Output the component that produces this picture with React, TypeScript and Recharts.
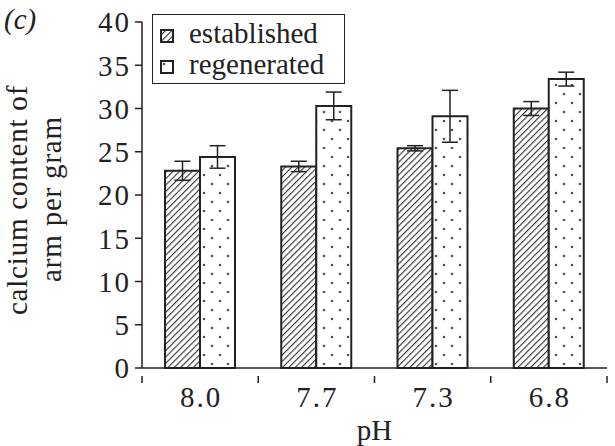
import React from 'react'
import { BarChart, Bar, XAxis, YAxis, ErrorBar } from 'recharts'

const phLevels = ['8.0', '7.7', '7.3', '6.8']
const established = [22.8, 23.3, 25.4, 30.0]
const establishedErr = [1.1, 0.6, 0.3, 0.8]
const regenerated = [24.4, 30.3, 29.1, 33.4]
const regeneratedErr = [1.3, 1.6, 3.0, 0.8]
const yTicks = [0, 5, 10, 15, 20, 25, 30, 35, 40]

const data = phLevels.map((ph, i) => ({
  ph,
  established: established[i],
  establishedErr: establishedErr[i],
  regenerated: regenerated[i],
  regeneratedErr: regeneratedErr[i],
}))

const W = 615
const H = 446
const M = { top: 22, right: 8, left: 0, bottom: 0 }
const Y_AXIS_W = 142
const X_AXIS_H = 78
const FONT = '"Liberation Serif", "Times New Roman", serif'
const FS = 29
const band = (W - M.left - M.right - Y_AXIS_W) / phLevels.length

function XTick(props: any) {
  const { x, y, payload, index } = props
  return (
    <g>
      <line x1={x - band / 2} y1={y} x2={x - band / 2} y2={y + 7} stroke="#222" strokeWidth={1.5} />
      {index === phLevels.length - 1 && (
        <line x1={x + band / 2} y1={y} x2={x + band / 2} y2={y + 7} stroke="#222" strokeWidth={1.5} />
      )}
      <text x={x + 1} y={y + 31} textAnchor="middle" fontFamily={FONT} fontSize={FS} fill="#222" letterSpacing={2}>
        {payload.value}
      </text>
    </g>
  )
}

function YLabel() {
  return (
    <g fontFamily={FONT} fontSize={FS} fill="#222">
      <text transform="translate(27,200) rotate(-90)" textAnchor="middle" letterSpacing={0.8}>calcium content of</text>
      <text transform="translate(61,199) rotate(-90)" textAnchor="middle" letterSpacing={0.8}>arm per gram</text>
    </g>
  )
}

function LegendBox() {
  const row = (fill: string, label: string) => (
    <div style={{ display: 'flex', alignItems: 'center', height: 31 }}>
      <svg width={14} height={14} style={{ marginRight: 15, marginTop: 5 }}>
        <rect x={1} y={1} width={12} height={12} fill={fill} stroke="#222" strokeWidth={2} />
      </svg>
      <span>{label}</span>
    </div>
  )
  return (
    <div
      style={{
        position: 'absolute',
        left: 152,
        top: 14,
        boxSizing: 'border-box',
        width: 193,
        height: 70,
        border: '1.5px solid #222',
        padding: '3px 0 0 7px',
        fontFamily: FONT,
        fontSize: FS,
        lineHeight: '31px',
        color: '#222',
        background: '#fff',
      }}
    >
      {row('url(#hatch)', 'established')}
      {row('url(#dots)', 'regenerated')}
    </div>
  )
}

export default function App() {
  return (
    <div style={{ position: 'absolute', left: 0, top: 0, width: W, height: H, background: '#fff' }}>
      <BarChart width={W} height={H} data={data} margin={M} barGap={0} barCategoryGap={23}>
        <defs>
          <pattern id="hatch" patternUnits="userSpaceOnUse" width={4.5} height={4.5} patternTransform="rotate(45)">
            <rect width={4.5} height={4.5} fill="#fff" />
            <line x1={0} y1={0} x2={0} y2={4.5} stroke="#333" strokeWidth={2.2} />
          </pattern>
          <pattern id="dots" patternUnits="userSpaceOnUse" width={16} height={18}>
            <rect width={16} height={18} fill="#fff" />
            <circle cx={4} cy={4} r={1.3} fill="#555" />
            <circle cx={12} cy={13} r={1.3} fill="#555" />
          </pattern>
        </defs>
        <XAxis
          dataKey="ph"
          height={X_AXIS_H}
          axisLine={{ stroke: '#222', strokeWidth: 1.5 }}
          tickLine={false}
          tick={<XTick />}
          interval={0}
          label={{
            value: 'pH',
            position: 'insideBottom',
            offset: 6,
            style: { fontFamily: FONT, fontSize: FS, fill: '#222' },
          }}
        />
        <YAxis
          width={Y_AXIS_W}
          domain={[0, 40]}
          ticks={yTicks}
          interval={0}
          axisLine={{ stroke: '#222', strokeWidth: 1.5 }}
          tickLine={{ stroke: '#222', strokeWidth: 1.5 }}
          tickSize={7}
          tickMargin={4}
          tick={{ fontFamily: FONT, fontSize: FS, fill: '#222', letterSpacing: 2 }}
          label={<YLabel />}
        />
        <Bar dataKey="established" fill="url(#hatch)" stroke="#222" strokeWidth={2} isAnimationActive={false}>
          <ErrorBar dataKey="establishedErr" width={8} stroke="#222" strokeWidth={1.5} />
        </Bar>
        <Bar dataKey="regenerated" fill="url(#dots)" stroke="#222" strokeWidth={2} isAnimationActive={false}>
          <ErrorBar dataKey="regeneratedErr" width={8} stroke="#222" strokeWidth={1.5} />
        </Bar>
      </BarChart>
      <LegendBox />
      <div
        style={{
          position: 'absolute',
          left: 4,
          top: 3,
          fontFamily: FONT,
          fontSize: FS,
          fontStyle: 'italic',
          lineHeight: '32px',
          color: '#222',
        }}
      >
        (c)
      </div>
    </div>
  )
}
